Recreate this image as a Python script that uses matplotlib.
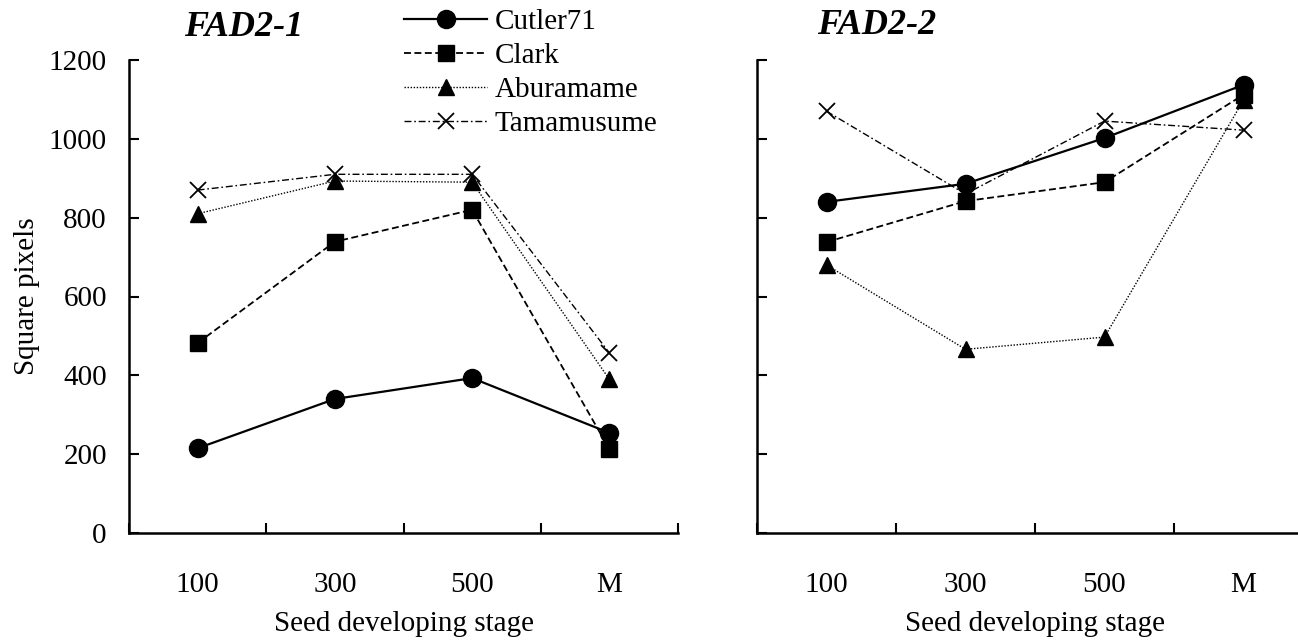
import matplotlib
matplotlib.use('Agg')
import numpy as np
import matplotlib.pyplot as plt

stages = ['100', '300', '500', 'M']
cultivars = ['Cutler71', 'Clark', 'Aburamame', 'Tamamusume']

# FAD2-1 values
fad21_cutler = [215, 340, 393, 254]
fad21_clark = [482, 739, 820, 213]
fad21_abura = [810, 893, 890, 390]
fad21_tama = [870, 910, 910, 457]

# FAD2-2 values
fad22_cutler = [840, 886, 1002, 1137]
fad22_clark = [738, 842, 890, 1112]
fad22_abura = [680, 466, 497, 1098]
fad22_tama = [1070, 860, 1045, 1022]

plt.rcParams['font.family'] = ['Liberation Serif', 'DejaVu Serif']
plt.rcParams['lines.scale_dashes'] = False

styles = [
    dict(marker='o', ls='-', lw=1.6, ms=13),
    dict(marker='s', ls=(0, (5, 2.5)), lw=1.3, ms=11),
    dict(marker='^', ls=(0, (1, 1.2)), lw=1.0, ms=12),
    dict(marker='x', ls=(0, (5, 2, 1.2, 2)), lw=1.0, ms=12, mew=1.3),
]

fs = 21

fig = plt.figure(figsize=(12.98, 6.43), dpi=100)
W, H = 1298, 643
ax1 = fig.add_axes([129 / W, 1 - 533 / H, 549 / W, 473 / H])
ax2 = fig.add_axes([757 / W, 1 - 533 / H, 556 / W, 473 / H])

x = np.arange(len(stages))
panels = [
    (ax1, [fad21_cutler, fad21_clark, fad21_abura, fad21_tama]),
    (ax2, [fad22_cutler, fad22_clark, fad22_abura, fad22_tama]),
]

handles = []
for ax, series in panels:
    for name, vals, st in zip(cultivars, series, styles):
        ln, = ax.plot(x, vals, color='black', mfc='black', mec='black',
                      label=name, clip_on=False, **st)
        if ax is ax1:
            handles.append(ln)
    ax.set_xlim(-0.5, 3.5)
    ax.set_ylim(0, 1200)
    ax.set_yticks(np.arange(0, 1201, 200))
    ax.set_xticks(np.arange(-0.5, 3.6, 1))
    ax.set_xticklabels([])
    ax.set_xticks(x, minor=True)
    ax.set_xticklabels(stages, minor=True, fontsize=fs)
    ax.tick_params(axis='x', which='minor', length=0, pad=28)
    ax.tick_params(axis='x', which='major', direction='in', length=7, width=1.5)
    ax.tick_params(axis='y', direction='in', length=7, width=1.5,
                   labelsize=fs, pad=16)
    for s in ['top', 'right']:
        ax.spines[s].set_visible(False)
    for s in ['left', 'bottom']:
        ax.spines[s].set_linewidth(1.8)
    ax.set_xlabel('Seed developing stage', fontsize=fs)
    ax.xaxis.set_label_coords(0.5, -0.165)

ax2.tick_params(axis='y', labelleft=False)
ax1.set_ylabel('Square pixels', fontsize=fs)
ax1.yaxis.set_label_coords(-0.162, 0.5)

fig.text(244 / W, 1 - 28 / H, 'FAD2-1', fontsize=26, fontweight='bold',
         fontstyle='italic', ha='center', va='center')
fig.text(877 / W, 1 - 26 / H, 'FAD2-2', fontsize=26, fontweight='bold',
         fontstyle='italic', ha='center', va='center')

fig.legend(handles=handles, loc='upper left',
           bbox_to_anchor=(404 / W, 1 - 9 / H), frameon=False,
           fontsize=fs, handlelength=2.85, handletextpad=0.25,
           labelspacing=0.26, borderpad=0, borderaxespad=0)

fig.savefig('out.png', dpi=100)
